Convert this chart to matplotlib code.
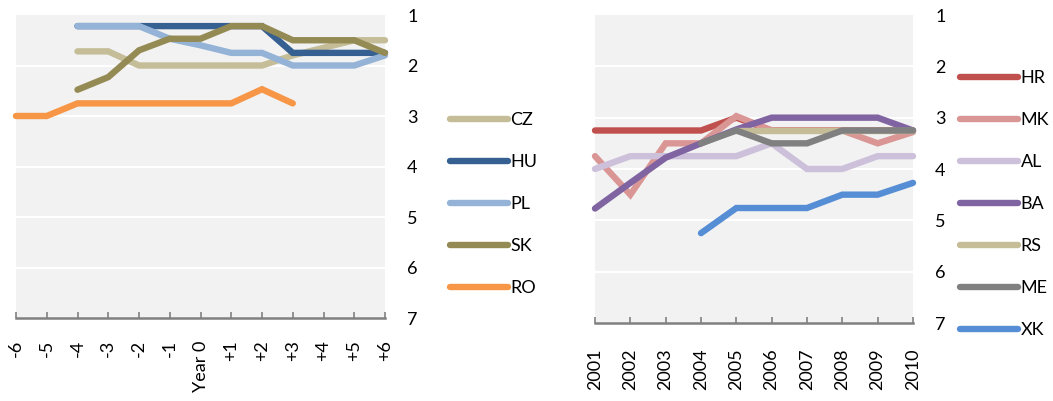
import numpy as np
import matplotlib.pyplot as plt
from matplotlib.lines import Line2D

plt.rcParams['font.family'] = ['Lato', 'DejaVu Sans']

# left panel: years around event
rel_years = np.arange(-6, 7)
rel_labels = ['-6', '-5', '-4', '-3', '-2', '-1', 'Year 0', '+1', '+2', '+3', '+4', '+5', '+6']
nan = np.nan
cz = [nan, nan, 1.72, 1.72, 2.0, 2.0, 2.0, 2.0, 2.0, 1.8, 1.65, 1.5, 1.5]
hu = [nan, nan, 1.22, 1.22, 1.22, 1.22, 1.22, 1.22, 1.22, 1.75, 1.75, 1.75, 1.75]
pl = [nan, nan, 1.22, 1.22, 1.22, 1.47, 1.6, 1.75, 1.75, 2.0, 2.0, 2.0, 1.8]
sk = [nan, nan, 2.48, 2.23, 1.7, 1.47, 1.47, 1.22, 1.22, 1.5, 1.5, 1.5, 1.75]
ro = [3.0, 3.0, 2.75, 2.75, 2.75, 2.75, 2.75, 2.75, 2.47, 2.75, nan, nan, nan]

# right panel: calendar years
years = np.arange(2001, 2011)
hr = [3.25, 3.25, 3.25, 3.25, 3.0, 3.25, 3.25, 3.25, 3.25, 3.25]
mk = [3.75, 4.5, 3.5, 3.5, 2.97, 3.25, 3.25, 3.25, 3.5, 3.28]
al = [4.0, 3.75, 3.75, 3.75, 3.75, 3.5, 4.0, 4.0, 3.75, 3.75]
ba = [4.77, 4.27, 3.78, 3.5, 3.23, 3.0, 3.0, 3.0, 3.0, 3.25]
rs = [nan, nan, nan, nan, 3.25, 3.25, 3.25, 3.25, 3.25, 3.25]
me = [nan, nan, nan, 3.5, 3.25, 3.5, 3.5, 3.25, 3.25, 3.25]
xk = [nan, nan, nan, 5.25, 4.76, 4.76, 4.76, 4.5, 4.5, 4.27]

left_series = [('CZ', cz, '#C4BD97'), ('HU', hu, '#376092'), ('PL', pl, '#95B3D7'),
               ('SK', sk, '#948A54'), ('RO', ro, '#F79646')]
right_series = [('HR', hr, '#C0504D'), ('MK', mk, '#DA9694'), ('AL', al, '#CCC0DA'),
                ('BA', ba, '#8064A2'), ('RS', rs, '#C4BD97'), ('ME', me, '#808080'),
                ('XK', xk, '#558ED5')]

fs = 13
lw = 4.6

fig = plt.figure(figsize=(10.53, 4.01), dpi=100)
ax1 = fig.add_axes([16/1053, 1-318/401, (385-16)/1053, (318-15)/401])
ax2 = fig.add_axes([595/1053, 1-323/401, (913-595)/1053, (323-15)/401])


def style(ax, x, labels, xpad):
    ax.set_facecolor('#F2F2F2')
    ax.set_ylim(7, 1)
    ax.set_xlim(x[0], x[-1])
    ax.set_yticks(range(1, 8))
    for y in range(2, 7):
        ax.axhline(y, color='white', lw=1.5, zorder=1)
    ax.yaxis.tick_right()
    ax.tick_params(axis='y', length=0, pad=16, labelsize=fs)
    ax.set_xticks(x)
    ax.set_xticklabels(labels, rotation=90, fontsize=fs, va='top', ha='center')
    ax.tick_params(axis='x', direction='in', length=4, width=1.2, color='#808080', pad=xpad)
    for s in ['top', 'left', 'right']:
        ax.spines[s].set_visible(False)
    ax.spines['bottom'].set_color('#808080')
    ax.spines['bottom'].set_linewidth(1.8)


style(ax1, rel_years, rel_labels, 16)
style(ax2, years, [str(y) for y in years], 18)

for name, vals, col in left_series:
    ax1.plot(rel_years, vals, color=col, lw=lw, solid_capstyle='round',
             solid_joinstyle='miter', zorder=3, clip_on=False)
for name, vals, col in right_series:
    ax2.plot(years, vals, color=col, lw=lw, solid_capstyle='round',
             solid_joinstyle='miter', zorder=3, clip_on=False)


def add_legend(series, x0, y0):
    handles = [Line2D([], [], color=c, lw=lw, solid_capstyle='round') for _, _, c in series]
    leg = fig.legend(handles, [n for n, _, _ in series], loc='upper left',
                     bbox_to_anchor=(x0/1053, 1-y0/401), frameon=False, fontsize=fs,
                     handlelength=3.2, handletextpad=0.15, labelspacing=1.44,
                     borderaxespad=0, borderpad=0)
    return leg


add_legend(left_series, 450, 112)
add_legend(right_series, 960, 70)

fig.savefig('out.png', dpi=100)
